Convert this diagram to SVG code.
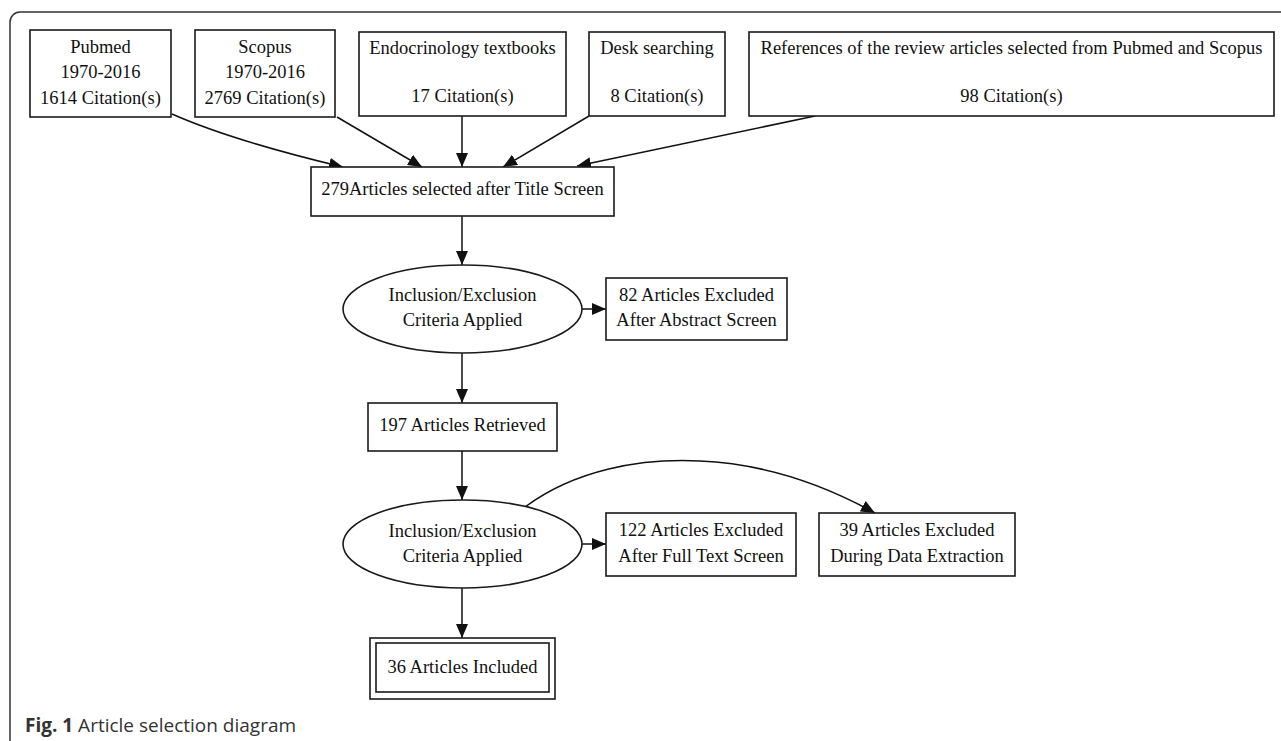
<svg xmlns="http://www.w3.org/2000/svg" width="1281" height="741" viewBox="0 0 1281 741">
<defs>
<style>
.box{fill:#fff;stroke:#1a1a1a;stroke-width:1.6}
.t{font-family:"Liberation Serif","Times New Roman",serif;font-size:18.5px;fill:#111;text-anchor:middle}
.e{fill:none;stroke:#111;stroke-width:1.5}
.cap{font-family:"Open Sans","Noto Sans",sans-serif;font-size:19px;fill:#333}
</style>
<marker id="ah" viewBox="0 0 14 12" refX="14" refY="6" markerWidth="14" markerHeight="12" markerUnits="userSpaceOnUse" orient="auto">
<path d="M0,0 L14,6 L0,12 z" fill="#111"/>
</marker>
</defs>
<rect width="1281" height="741" fill="#fff"/>
<rect x="10" y="12" width="1290" height="740" rx="10" ry="10" fill="none" stroke="#333" stroke-width="1.5"/>

<g id="connectors">
<path class="e" d="M172,114 C215,133 280,152 343,167" marker-end="url(#ah)"/>
<path class="e" d="M337,117 L422,167" marker-end="url(#ah)"/>
<path class="e" d="M462,116 L462,167" marker-end="url(#ah)"/>
<path class="e" d="M589,116 L503,167" marker-end="url(#ah)"/>
<path class="e" d="M815,116 L577,166" marker-end="url(#ah)"/>
<path class="e" d="M462,216 L462,265" marker-end="url(#ah)"/>
<path class="e" d="M582,309 L606,309" marker-end="url(#ah)"/>
<path class="e" d="M462,353 L462,403" marker-end="url(#ah)"/>
<path class="e" d="M462,451 L462,500" marker-end="url(#ah)"/>
<path class="e" d="M582,544 L606,544" marker-end="url(#ah)"/>
<path class="e" d="M462,588 L462,638" marker-end="url(#ah)"/>
<path class="e" d="M525,507 C575,470 640,458 700,461 C770,464 830,488 875,513" marker-end="url(#ah)"/>
</g>

<g id="pubmed">
<rect class="box" x="30" y="30" width="141" height="87"/>
<text class="t" x="100.5" y="53">Pubmed</text>
<text class="t" x="100.5" y="78">1970-2016</text>
<text class="t" x="100.5" y="104">1614 Citation(s)</text>
</g>
<g id="scopus">
<rect class="box" x="195" y="30" width="140" height="87"/>
<text class="t" x="265" y="53">Scopus</text>
<text class="t" x="265" y="78">1970-2016</text>
<text class="t" x="265" y="104">2769 Citation(s)</text>
</g>
<g id="textbooks">
<rect class="box" x="359" y="32" width="207" height="84"/>
<text class="t" x="462.5" y="54">Endocrinology textbooks</text>
<text class="t" x="462.5" y="102">17 Citation(s)</text>
</g>
<g id="desk">
<rect class="box" x="589" y="32" width="136" height="84"/>
<text class="t" x="657" y="54">Desk searching</text>
<text class="t" x="657" y="102">8 Citation(s)</text>
</g>
<g id="references">
<rect class="box" x="749" y="32" width="525" height="84"/>
<text class="t" x="1011.5" y="54">References of the review articles selected from Pubmed and Scopus</text>
<text class="t" x="1011.5" y="102">98 Citation(s)</text>
</g>
<g id="title-screen">
<rect class="box" x="311" y="167" width="303" height="49"/>
<text class="t" x="462.5" y="195">279Articles selected after Title Screen</text>
</g>
<g id="criteria1">
<ellipse class="box" cx="462.5" cy="309" rx="119.5" ry="44"/>
<text class="t" x="462.5" y="301">Inclusion/Exclusion</text>
<text class="t" x="462.5" y="326">Criteria Applied</text>
</g>
<g id="excluded-abstract">
<rect class="box" x="606" y="278" width="181" height="62"/>
<text class="t" x="696.5" y="301">82 Articles Excluded</text>
<text class="t" x="696.5" y="326">After Abstract Screen</text>
</g>
<g id="retrieved">
<rect class="box" x="368" y="403" width="189" height="48"/>
<text class="t" x="462.5" y="431">197 Articles Retrieved</text>
</g>
<g id="criteria2">
<ellipse class="box" cx="462.5" cy="544" rx="119.5" ry="44"/>
<text class="t" x="462.5" y="537">Inclusion/Exclusion</text>
<text class="t" x="462.5" y="562">Criteria Applied</text>
</g>
<g id="excluded-fulltext">
<rect class="box" x="606" y="513" width="190" height="63"/>
<text class="t" x="701" y="536">122 Articles Excluded</text>
<text class="t" x="701" y="562">After Full Text Screen</text>
</g>
<g id="excluded-extraction">
<rect class="box" x="819" y="513" width="196" height="63"/>
<text class="t" x="917" y="536">39 Articles Excluded</text>
<text class="t" x="917" y="562">During Data Extraction</text>
</g>
<g id="included">
<rect class="box" x="370" y="638" width="185" height="61"/>
<rect class="box" x="376" y="643" width="173" height="49"/>
<text class="t" x="462.5" y="673">36 Articles Included</text>
</g>

<text class="cap" x="25" y="732"><tspan font-weight="bold">Fig. 1</tspan> Article selection diagram</text>
</svg>
